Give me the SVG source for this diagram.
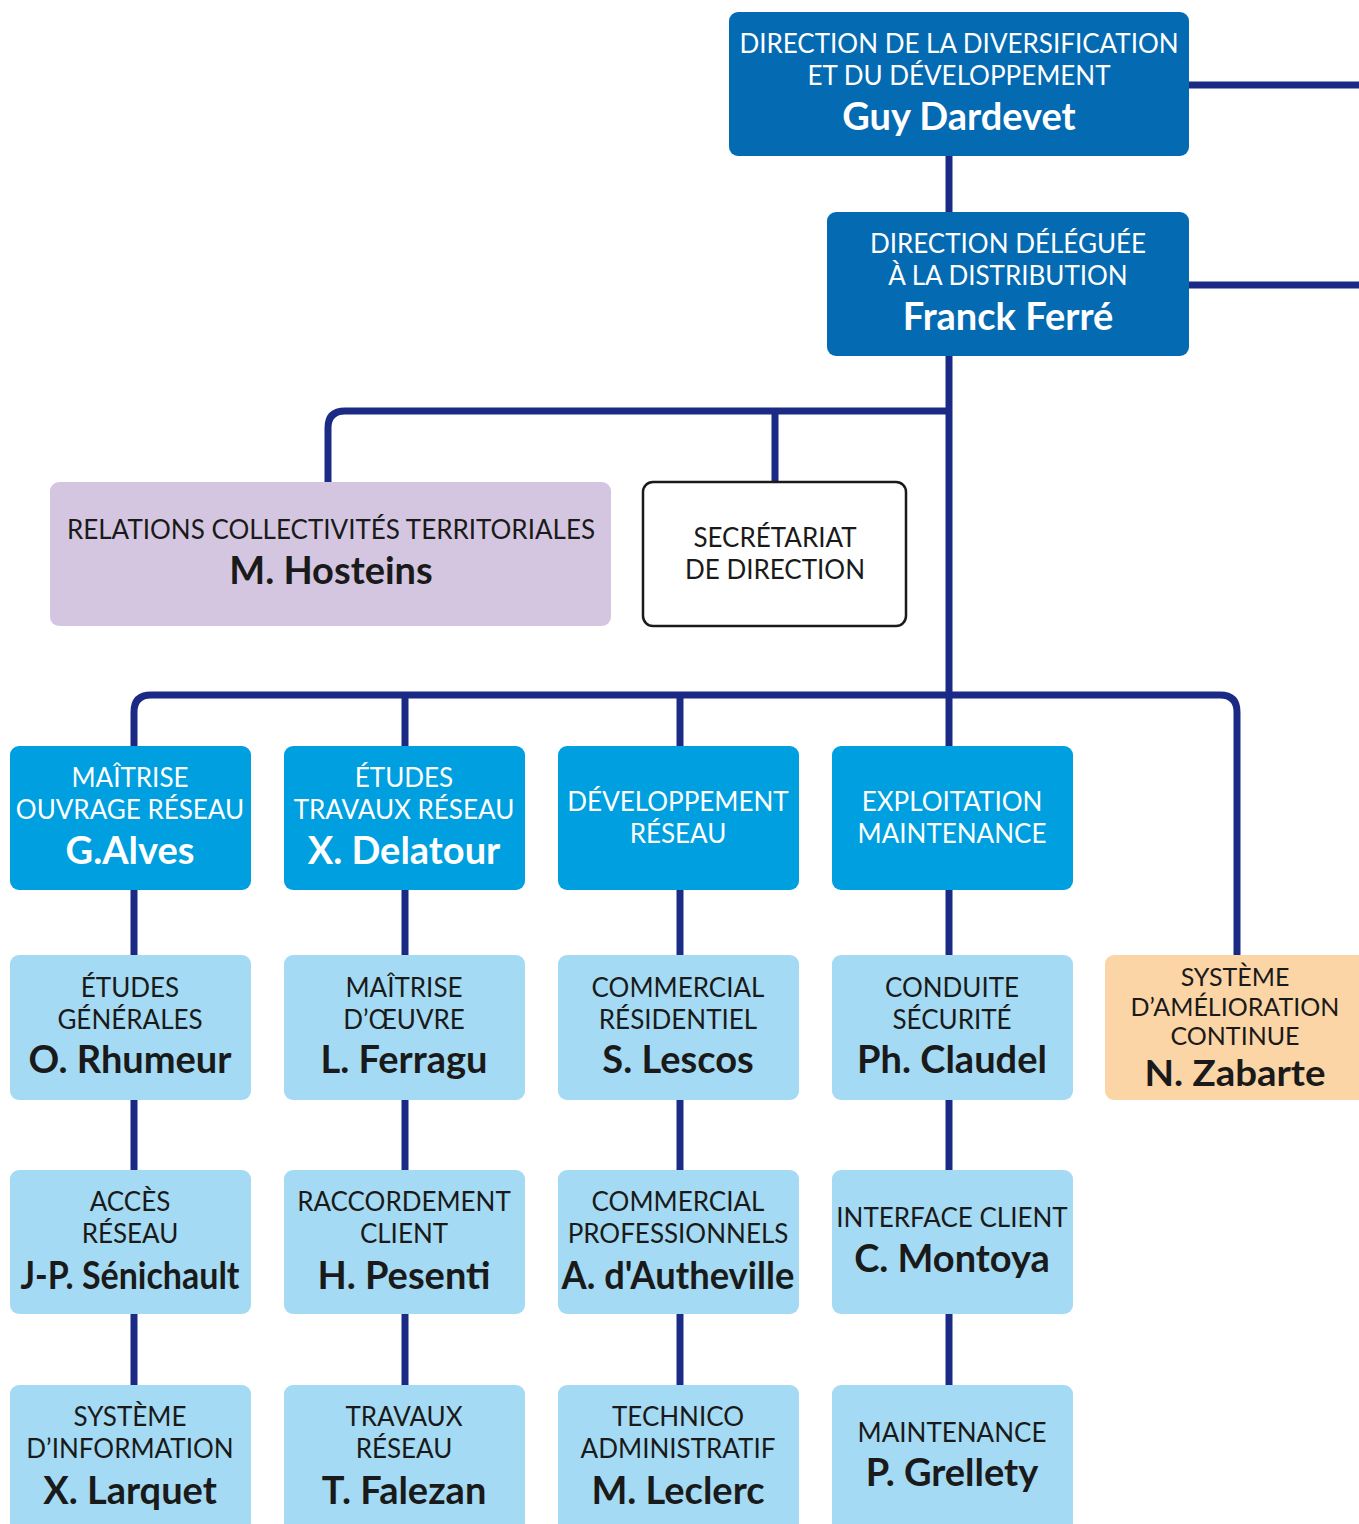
<svg xmlns="http://www.w3.org/2000/svg" width="1359" height="1524" viewBox="0 0 1359 1524">
<style>
.ln{fill:none;stroke:#1B2A85;stroke-width:7;stroke-linejoin:round}
.t{font-family:Lato,"Open Sans",sans-serif;font-size:26px;text-anchor:middle}
.s{font-size:25px}
.n{font-family:Lato,"Open Sans",sans-serif;font-size:38px;font-weight:bold;text-anchor:middle}
.w{fill:#fff}
.k{fill:#1a1a1a}
.dk{fill:#046AB1}
.md{fill:#009FE0}
.lt{fill:#A4DAF3}
</style>
<rect width="1359" height="1524" fill="#fff"/>
<g id="connectors">
<path class="ln" d="M1189 85H1359"/>
<path class="ln" d="M1189 285H1359"/>
<path class="ln" d="M949 156V746"/>
<path class="ln" d="M949 411H345Q328 411 328 428V482"/>
<path class="ln" d="M775 411V482"/>
<path class="ln" d="M134 746V712Q134 695 151 695H1220Q1237 695 1237 712V955"/>
<path class="ln" d="M405 695V746"/>
<path class="ln" d="M680 695V746"/>
<path class="ln" d="M134 890V1385"/>
<path class="ln" d="M405 890V1385"/>
<path class="ln" d="M680 890V1385"/>
<path class="ln" d="M949 890V1385"/>
</g>
<g id="dir-diversification">
<rect class="dk" x="729" y="12" width="460" height="144" rx="9"/>
<text class="t w" x="959" y="53">DIRECTION DE LA DIVERSIFICATION</text>
<text class="t w" x="959" y="85">ET DU DÉVELOPPEMENT</text>
<text class="n w" x="959" y="130">Guy Dardevet</text>
</g>
<g id="dir-deleguee">
<rect class="dk" x="827" y="212" width="362" height="144" rx="9"/>
<text class="t w" x="1008" y="253">DIRECTION DÉLÉGUÉE</text>
<text class="t w" x="1008" y="285">À LA DISTRIBUTION</text>
<text class="n w" x="1008" y="330">Franck Ferré</text>
</g>
<g id="relations">
<rect fill="#D4C6E0" x="50" y="482" width="561" height="144" rx="9"/>
<text class="t k" x="331" y="539">RELATIONS COLLECTIVITÉS TERRITORIALES</text>
<text class="n k" x="331" y="584">M. Hosteins</text>
</g>
<g id="secretariat">
<rect fill="#fff" stroke="#1a1a1a" stroke-width="2.5" x="643" y="482" width="263" height="144" rx="10"/>
<text class="t k" x="775" y="547">SECRÉTARIAT</text>
<text class="t k" x="775" y="579">DE DIRECTION</text>
</g>
<g id="moa">
<rect class="md" x="10" y="746" width="241" height="144" rx="9"/>
<text class="t w" x="130" y="787">MAÎTRISE</text>
<text class="t w" x="130" y="819">OUVRAGE RÉSEAU</text>
<text class="n w" x="130" y="864">G.Alves</text>
</g>
<g id="etudes-travaux">
<rect class="md" x="284" y="746" width="241" height="144" rx="9"/>
<text class="t w" x="404" y="787">ÉTUDES</text>
<text class="t w" x="404" y="819">TRAVAUX RÉSEAU</text>
<text class="n w" x="404" y="864">X. Delatour</text>
</g>
<g id="developpement">
<rect class="md" x="558" y="746" width="241" height="144" rx="9"/>
<text class="t w" x="678" y="811">DÉVELOPPEMENT</text>
<text class="t w" x="678" y="843">RÉSEAU</text>
</g>
<g id="exploitation">
<rect class="md" x="832" y="746" width="241" height="144" rx="9"/>
<text class="t w" x="952" y="811">EXPLOITATION</text>
<text class="t w" x="952" y="843">MAINTENANCE</text>
</g>
<g id="sac">
<rect fill="#FBD5A5" x="1105" y="955" width="264" height="145" rx="9"/>
<text class="t s k" x="1235" y="986">SYSTÈME</text>
<text class="t s k" x="1235" y="1016">D’AMÉLIORATION</text>
<text class="t s k" x="1235" y="1045">CONTINUE</text>
<text class="n k" x="1235" y="1086" style="font-size:36px" textLength="181" lengthAdjust="spacingAndGlyphs">N. Zabarte</text>
</g>
<g id="etudes-generales">
<rect class="lt" x="10" y="955" width="241" height="145" rx="9"/>
<text class="t k" x="130" y="997">ÉTUDES</text>
<text class="t k" x="130" y="1029">GÉNÉRALES</text>
<text class="n k" x="130" y="1073">O. Rhumeur</text>
</g>
<g id="moe">
<rect class="lt" x="284" y="955" width="241" height="145" rx="9"/>
<text class="t k" x="404" y="997">MAÎTRISE</text>
<text class="t k" x="404" y="1029">D’ŒUVRE</text>
<text class="n k" x="404" y="1073">L. Ferragu</text>
</g>
<g id="com-residentiel">
<rect class="lt" x="558" y="955" width="241" height="145" rx="9"/>
<text class="t k" x="678" y="997">COMMERCIAL</text>
<text class="t k" x="678" y="1029">RÉSIDENTIEL</text>
<text class="n k" x="678" y="1073">S. Lescos</text>
</g>
<g id="conduite">
<rect class="lt" x="832" y="955" width="241" height="145" rx="9"/>
<text class="t k" x="952" y="997">CONDUITE</text>
<text class="t k" x="952" y="1029">SÉCURITÉ</text>
<text class="n k" x="952" y="1073">Ph. Claudel</text>
</g>
<g id="acces">
<rect class="lt" x="10" y="1170" width="241" height="144" rx="9"/>
<text class="t k" x="130" y="1211">ACCÈS</text>
<text class="t k" x="130" y="1243">RÉSEAU</text>
<text class="n k" x="130" y="1289" textLength="219" lengthAdjust="spacingAndGlyphs">J-P. Sénichault</text>
</g>
<g id="raccordement">
<rect class="lt" x="284" y="1170" width="241" height="144" rx="9"/>
<text class="t k" x="404" y="1211">RACCORDEMENT</text>
<text class="t k" x="404" y="1243">CLIENT</text>
<text class="n k" x="404" y="1289">H. Pesenti</text>
</g>
<g id="com-pro">
<rect class="lt" x="558" y="1170" width="241" height="144" rx="9"/>
<text class="t k" x="678" y="1211">COMMERCIAL</text>
<text class="t k" x="678" y="1243">PROFESSIONNELS</text>
<text class="n k" x="678" y="1289" textLength="233" lengthAdjust="spacingAndGlyphs">A. d'Autheville</text>
</g>
<g id="interface">
<rect class="lt" x="832" y="1170" width="241" height="144" rx="9"/>
<text class="t k" x="952" y="1227">INTERFACE CLIENT</text>
<text class="n k" x="952" y="1272">C. Montoya</text>
</g>
<g id="si">
<rect class="lt" x="10" y="1385" width="241" height="150" rx="9"/>
<text class="t k" x="130" y="1426">SYSTÈME</text>
<text class="t k" x="130" y="1458">D’INFORMATION</text>
<text class="n k" x="130" y="1504">X. Larquet</text>
</g>
<g id="travaux">
<rect class="lt" x="284" y="1385" width="241" height="150" rx="9"/>
<text class="t k" x="404" y="1426">TRAVAUX</text>
<text class="t k" x="404" y="1458">RÉSEAU</text>
<text class="n k" x="404" y="1504">T. Falezan</text>
</g>
<g id="technico">
<rect class="lt" x="558" y="1385" width="241" height="150" rx="9"/>
<text class="t k" x="678" y="1426">TECHNICO</text>
<text class="t k" x="678" y="1458">ADMINISTRATIF</text>
<text class="n k" x="678" y="1504">M. Leclerc</text>
</g>
<g id="maintenance">
<rect class="lt" x="832" y="1385" width="241" height="150" rx="9"/>
<text class="t k" x="952" y="1442">MAINTENANCE</text>
<text class="n k" x="952" y="1486">P. Grellety</text>
</g>
</svg>
